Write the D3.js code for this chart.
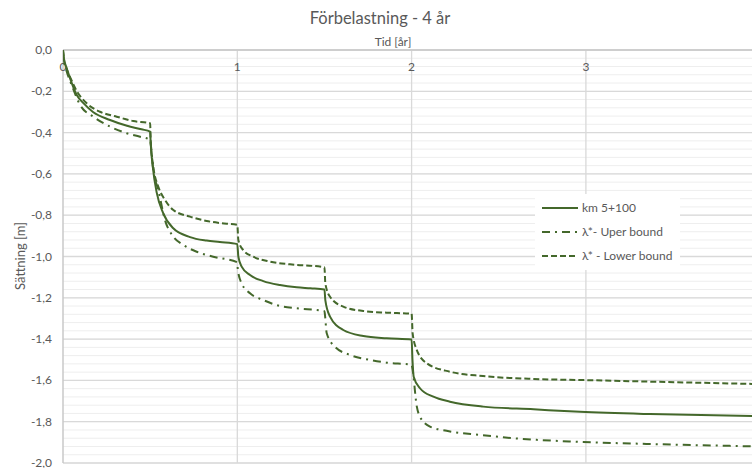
<!DOCTYPE html>
<html><head><meta charset="utf-8">
<script src="https://cdn.jsdelivr.net/npm/d3@7"></script>
<style>body{margin:0;background:#fff}svg{display:block}text{font-family:Lato,"Open Sans",sans-serif}</style>
</head><body>
<svg id="c" width="752" height="468"></svg>
<script>
const title = "Förbelastning - 4 år";
const xTitle = "Tid [år]";
const yTitle = "Sättning [m]";
const xTicks = [0, 1, 2, 3];
const yTicks = [0, -0.2, -0.4, -0.6, -0.8, -1.0, -1.2, -1.4, -1.6, -1.8, -2.0];
const seriesNames = ["km 5+100", "λ*- Uper bound", "λ* - Lower bound"];

const mainT = [0,0.005,0.02,0.04,0.079,0.12,0.172,0.27,0.367,0.45,0.5,0.503,0.515,0.538,0.574,0.631,0.729,0.824,0.9,1.0,1.006,1.025,1.073,1.149,1.245,1.341,1.42,1.5,1.505,1.532,1.608,1.723,1.857,2.0,2.005,2.012,2.048,2.125,2.22,2.41,2.70,2.966,3.368,4.0];
const mainV = [0,-0.04,-0.085,-0.136,-0.218,-0.26,-0.30,-0.339,-0.367,-0.384,-0.395,-0.45,-0.565,-0.692,-0.789,-0.862,-0.906,-0.923,-0.93,-0.94,-1.001,-1.049,-1.09,-1.119,-1.138,-1.149,-1.154,-1.16,-1.211,-1.291,-1.356,-1.385,-1.396,-1.402,-1.50,-1.582,-1.638,-1.679,-1.703,-1.727,-1.740,-1.752,-1.763,-1.773];

const upperT = [0,0.005,0.02,0.05,0.098,0.174,0.27,0.365,0.442,0.5,0.503,0.518,0.547,0.585,0.633,0.69,0.767,0.862,1.0,1.003,1.025,1.073,1.149,1.245,1.341,1.5,1.502,1.513,1.56,1.647,1.761,1.857,2.0,2.003,2.03,2.048,2.106,2.201,2.392,2.583,2.947,3.368,4.0];
const upperV = [0,-0.05,-0.1,-0.17,-0.266,-0.323,-0.371,-0.403,-0.42,-0.435,-0.452,-0.581,-0.678,-0.823,-0.904,-0.944,-0.977,-1.001,-1.028,-1.065,-1.13,-1.178,-1.211,-1.24,-1.251,-1.265,-1.275,-1.372,-1.437,-1.477,-1.501,-1.514,-1.524,-1.534,-1.727,-1.776,-1.824,-1.844,-1.864,-1.88,-1.897,-1.908,-1.92];

const lowerT = [0,0.005,0.02,0.04,0.08,0.136,0.212,0.308,0.403,0.5,0.503,0.518,0.547,0.585,0.633,0.729,0.824,0.9,1.0,1.006,1.034,1.092,1.188,1.302,1.5,1.505,1.532,1.608,1.723,1.857,2.0,2.006,2.03,2.087,2.22,2.41,2.70,2.966,3.368,4.0];
const lowerV = [0,-0.045,-0.09,-0.13,-0.2,-0.258,-0.299,-0.323,-0.344,-0.355,-0.436,-0.565,-0.662,-0.726,-0.775,-0.807,-0.828,-0.838,-0.847,-0.92,-0.969,-1.001,-1.025,-1.038,-1.052,-1.13,-1.195,-1.243,-1.264,-1.272,-1.277,-1.372,-1.453,-1.517,-1.558,-1.579,-1.593,-1.598,-1.606,-1.618];

const color = "#44682b";
const svg = d3.select("#c");
const x = d3.scaleLinear().domain([0, 4]).range([63, 760.2]);
const y = d3.scaleLinear().domain([0, -2]).range([50, 463]);
const loc = d3.formatLocale({decimal: ",", thousands: " ", grouping: [3], currency: ["", ""], minus: "-"});
const fy = loc.format(".1f");

const minor = d3.range(0, 51).map(i => -i * 0.04);
svg.append("g").selectAll("line").data(minor).join("line")
  .attr("x1", x(0)).attr("x2", 752).attr("y1", d => y(d)).attr("y2", d => y(d))
  .attr("stroke", "#eeeeee").attr("stroke-width", 1);
svg.append("g").selectAll("line").data(yTicks).join("line")
  .attr("x1", x(0)).attr("x2", 752).attr("y1", d => y(d)).attr("y2", d => y(d))
  .attr("stroke", "#d9d9d9").attr("stroke-width", 1.3);
svg.append("g").selectAll("line").data(xTicks.slice(1)).join("line")
  .attr("x1", d => x(d)).attr("x2", d => x(d)).attr("y1", y(0)).attr("y2", y(-2))
  .attr("stroke", "#d9d9d9").attr("stroke-width", 1.3);
svg.append("line").attr("x1", x(0)).attr("x2", 752).attr("y1", y(0)).attr("y2", y(0)).attr("stroke", "#c8c8c8").attr("stroke-width", 1.5);
svg.append("line").attr("x1", x(0)).attr("x2", x(0)).attr("y1", y(0)).attr("y2", y(-2)).attr("stroke", "#c8c8c8").attr("stroke-width", 1.5);

svg.append("g").selectAll("text").data(yTicks).join("text")
  .attr("x", 52).attr("y", d => y(d) + 4).attr("text-anchor", "end")
  .attr("font-size", 12).attr("fill", "#595959").text(d => fy(d));
svg.append("g").selectAll("text").data(xTicks).join("text")
  .attr("x", d => x(d)).attr("y", 71).attr("text-anchor", "middle")
  .attr("font-size", 12).attr("fill", "#595959").text(d => d);

svg.append("text").attr("x", 380).attr("y", 24).attr("text-anchor", "middle").attr("font-size", 16.5).attr("fill", "#595959").text(title);
svg.append("text").attr("x", 393).attr("y", 46).attr("text-anchor", "middle").attr("font-size", 12).attr("fill", "#595959").text(xTitle);
svg.append("text").attr("transform", "translate(25,256) rotate(-90)").attr("text-anchor", "middle").attr("font-size", 13).attr("fill", "#595959").text(yTitle);

const series = [
  {t: mainT, v: mainV, dash: null},
  {t: upperT, v: upperV, dash: "8,5,2,5"},
  {t: lowerT, v: lowerV, dash: "6,3"}
];
const line = d3.line().x(d => x(d[0])).y(d => y(d[1])).curve(d3.curveMonotoneX);
svg.append("clipPath").attr("id", "clip").append("rect").attr("x", x(0)).attr("y", 0).attr("width", 752 - x(0)).attr("height", 468);
const lg = svg.append("g").attr("clip-path", "url(#clip)");
series.forEach(s => {
  lg.append("path").attr("d", line(s.t.map((t, i) => [t, s.v[i]])))
    .attr("fill", "none").attr("stroke", color).attr("stroke-width", 2)
    .attr("stroke-dasharray", s.dash);
});

const leg = svg.append("g");
leg.append("rect").attr("x", 535).attr("y", 194).attr("width", 145).attr("height", 76).attr("fill", "#fff");
series.forEach((s, i) => {
  const yy = 208 + i * 24;
  leg.append("line").attr("x1", 542).attr("x2", 578).attr("y1", yy).attr("y2", yy)
    .attr("stroke", color).attr("stroke-width", 2).attr("stroke-dasharray", s.dash);
  leg.append("text").attr("x", 582).attr("y", yy + 4).attr("font-size", 12).attr("fill", "#595959").text(seriesNames[i]);
});
</script>
</body></html>
